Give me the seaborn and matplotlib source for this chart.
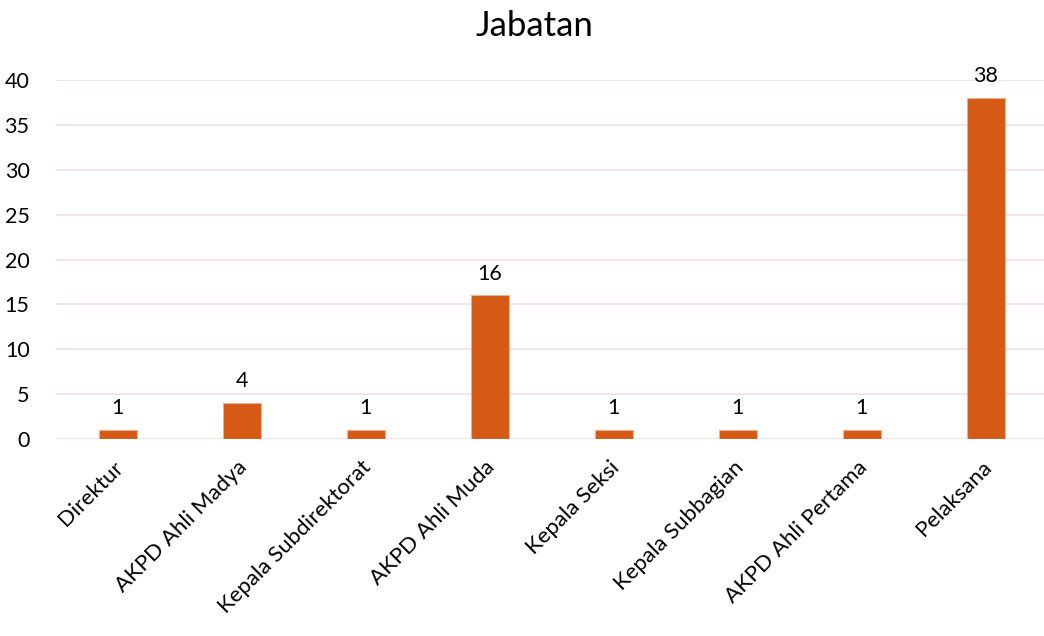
import matplotlib
matplotlib.use("Agg")
import matplotlib.pyplot as plt
import matplotlib.transforms as mtransforms
import seaborn as sns
import pandas as pd

categories = ["Direktur", "AKPD Ahli Madya", "Kepala Subdirektorat", "AKPD Ahli Muda",
              "Kepala Seksi", "Kepala Subbagian", "AKPD Ahli Pertama", "Pelaksana"]
values = [1, 4, 1, 16, 1, 1, 1, 38]
yticks = [0, 5, 10, 15, 20, 25, 30, 35, 40]

sns.set_theme(style="white")
plt.rcParams['font.family'] = ['Lato', 'DejaVu Sans']
plt.rcParams['text.color'] = 'black'

df = pd.DataFrame({"cat": categories, "val": values})

fig = plt.figure(figsize=(10.44, 6.36), dpi=100)
ax = fig.add_axes([0.0536, 0.3097, 0.9502, 0.5645])
sns.barplot(data=df, x="cat", y="val", color="#D55A15", saturation=1, width=0.31,
            edgecolor="#F0B090", linewidth=0.8, ax=ax, zorder=3)
ax.set_ylim(0, 40)
ax.set_yticks(yticks)
ax.set_yticklabels([str(t) for t in yticks], fontsize=15.5, color="black")
ax.yaxis.grid(True, color="#F6DEDF", linewidth=1.2, zorder=0)
ax.set_axisbelow(True)
for s in ax.spines.values():
    s.set_visible(False)
ax.tick_params(axis="x", length=0, pad=13)
ax.tick_params(axis="y", length=0, pad=19)
ax.set_xlabel("")
ax.set_ylabel("")
ax.set_xticks(range(len(categories)))
ax.set_xticklabels(categories, rotation=45, ha="right", rotation_mode="anchor",
                   fontsize=16, color="black")
offset = mtransforms.ScaledTranslation(-5 / 100, 0, fig.dpi_scale_trans)
for lab in ax.get_xticklabels():
    lab.set_transform(lab.get_transform() + offset)
for i, v in enumerate(values):
    ax.text(i, v + 1.3, str(v), ha="center", va="bottom", fontsize=15.5, color="black",
            clip_on=False)
ax.set_xlim(-0.5, len(categories) - 0.5)
fig.suptitle("Jabatan", fontsize=25, x=0.512, y=0.985, color="black")
fig.savefig("out.png", dpi=100)
